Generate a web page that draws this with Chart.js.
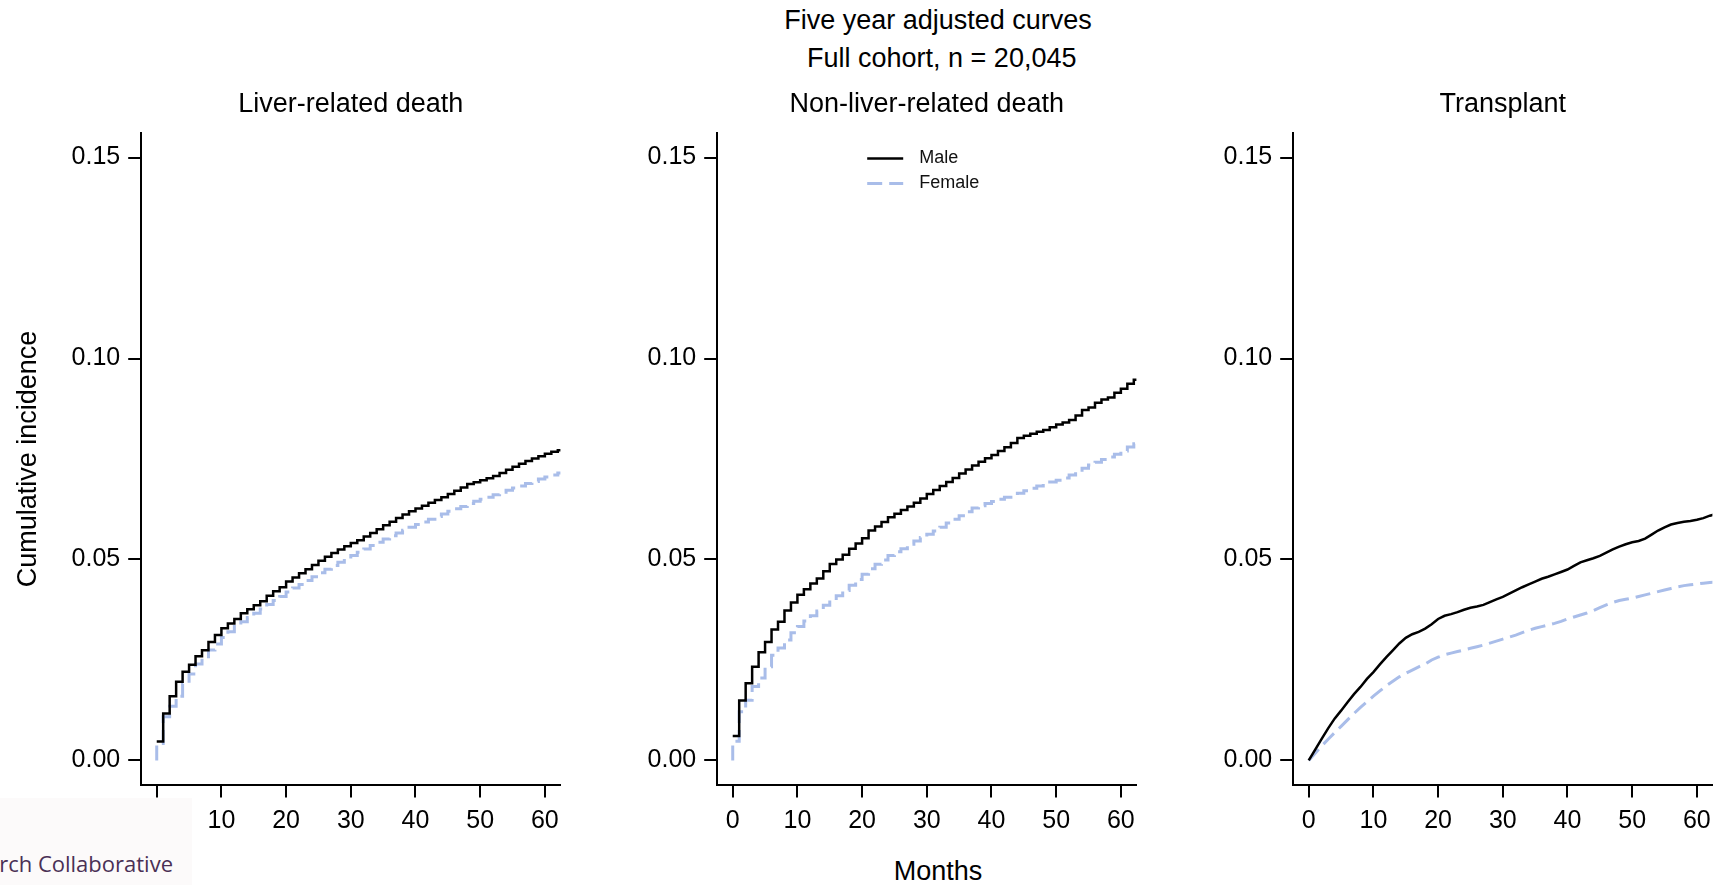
<!DOCTYPE html>
<html>
<head>
<meta charset="utf-8">
<title>Five year adjusted curves</title>
<script src="https://cdn.jsdelivr.net/npm/chart.js@4.4.1/dist/chart.umd.min.js"></script>
<style>
  html, body { margin: 0; padding: 0; background: #fff; }
  #wrap { position: relative; width: 1718px; height: 885px; overflow: hidden; }
  canvas { position: absolute; top: 0; }
  .outer { position: absolute; font-family: "Liberation Sans", Arial, sans-serif; color: #000;
           text-align: center; white-space: pre; }
  #mainTitle { left: 538px; width: 800px; top: 1px; font-size: 27px; line-height: 38px; }
  #xTitle { left: 738px; width: 400px; top: 858px; font-size: 27px; line-height: 27px; }
  #footerBox { position: absolute; left: 0; top: 798px; width: 192px; height: 87px; background: #fcfafa; }
  #footer { position: absolute; right: 1545px; top: 852px; font-family: "Open Sans", sans-serif;
            font-size: 22px; line-height: 22px; color: #4a3055; white-space: nowrap; }
</style>
</head>
<body>
<div id="wrap">
  <div id="footerBox"></div>
  <div id="footer">rch Collaborative</div>
  <div id="mainTitle" class="outer">Five year adjusted curves
 Full cohort, n = 20,045</div>
  <div id="xTitle" class="outer">Months</div>
  <canvas id="liver" width="576" height="885" style="left:0px"></canvas>
  <canvas id="nonliver" width="576" height="885" style="left:576px"></canvas>
  <canvas id="transplant" width="576" height="885" style="left:1152px"></canvas>
</div>

<script>
// Follow-up time in months (one estimate per month)
const months = [
  0, 1, 2, 3, 4, 5, 6, 7, 8, 9,
  10, 11, 12, 13, 14, 15, 16, 17, 18, 19,
  20, 21, 22, 23, 24, 25, 26, 27, 28, 29,
  30, 31, 32, 33, 34, 35, 36, 37, 38, 39,
  40, 41, 42, 43, 44, 45, 46, 47, 48, 49,
  50, 51, 52, 53, 54, 55, 56, 57, 58, 59,
  60, 61, 62, 63
];

const xTicks = [0, 10, 20, 30, 40, 50, 60];
const xTickLabels = ["0", "10", "20", "30", "40", "50", "60"];
const xTickLabelsNoZero = ["", "10", "20", "30", "40", "50", "60"];
const yTicks = [0, 0.05, 0.10, 0.15];
const yTickLabels = ["0.00", "0.05", "0.10", "0.15"];

// Cumulative incidence, liver-related death
const liverMale = [
  0.0047, 0.0117, 0.0160, 0.0196, 0.0221, 0.0238, 0.0259, 0.0274, 0.0295, 0.0312,
  0.0329, 0.0341, 0.0352, 0.0366, 0.0376, 0.0386, 0.0396, 0.0410, 0.0421, 0.0431,
  0.0445, 0.0455, 0.0466, 0.0476, 0.0486, 0.0497, 0.0507, 0.0516, 0.0525, 0.0533,
  0.0541, 0.0548, 0.0557, 0.0566, 0.0575, 0.0585, 0.0594, 0.0603, 0.0612, 0.0620,
  0.0627, 0.0634, 0.0641, 0.0648, 0.0655, 0.0663, 0.0671, 0.0679, 0.0688, 0.0692,
  0.0697, 0.0702, 0.0708, 0.0715, 0.0723, 0.0731, 0.0738, 0.0745, 0.0751, 0.0757,
  0.0763, 0.0768, 0.0772, 0.0774
];
const liverFemale = [
  0.0042, 0.0109, 0.0135, 0.0160, 0.0190, 0.0215, 0.0240, 0.0258, 0.0275, 0.0290,
  0.0306, 0.0320, 0.0333, 0.0345, 0.0356, 0.0366, 0.0377, 0.0388, 0.0398, 0.0408,
  0.0419, 0.0429, 0.0438, 0.0448, 0.0457, 0.0467, 0.0476, 0.0485, 0.0493, 0.0502,
  0.0510, 0.0518, 0.0526, 0.0535, 0.0543, 0.0551, 0.0559, 0.0566, 0.0573, 0.0580,
  0.0587, 0.0593, 0.0600, 0.0607, 0.0613, 0.0620, 0.0626, 0.0632, 0.0639, 0.0645,
  0.0650, 0.0655, 0.0661, 0.0667, 0.0672, 0.0678, 0.0683, 0.0689, 0.0694, 0.0700,
  0.0705, 0.0710, 0.0715, 0.0717
];

// Cumulative incidence, non-liver-related death
const nonLiverMale = [
  0.0061, 0.0149, 0.0192, 0.0233, 0.0269, 0.0295, 0.0326, 0.0345, 0.0373, 0.0393,
  0.0412, 0.0426, 0.0440, 0.0453, 0.0471, 0.0489, 0.0500, 0.0512, 0.0527, 0.0540,
  0.0553, 0.0572, 0.0582, 0.0593, 0.0605, 0.0614, 0.0623, 0.0632, 0.0641, 0.0652,
  0.0663, 0.0673, 0.0683, 0.0693, 0.0703, 0.0714, 0.0724, 0.0734, 0.0743, 0.0752,
  0.0760, 0.0770, 0.0779, 0.0790, 0.0802, 0.0808, 0.0813, 0.0818, 0.0822, 0.0829,
  0.0836, 0.0841, 0.0847, 0.0858, 0.0872, 0.0878, 0.0890, 0.0898, 0.0903, 0.0915,
  0.0925, 0.0937, 0.0947, 0.0953
];
const nonLiverFemale = [
  0.0048, 0.0121, 0.0150, 0.0184, 0.0205, 0.0233, 0.0262, 0.0280, 0.0300, 0.0318,
  0.0333, 0.0347, 0.0360, 0.0372, 0.0386, 0.0398, 0.0410, 0.0423, 0.0436, 0.0450,
  0.0463, 0.0477, 0.0488, 0.0499, 0.0510, 0.0519, 0.0527, 0.0538, 0.0546, 0.0555,
  0.0563, 0.0571, 0.0580, 0.0591, 0.0600, 0.0609, 0.0619, 0.0628, 0.0634, 0.0639,
  0.0644, 0.0650, 0.0655, 0.0660, 0.0665, 0.0671, 0.0677, 0.0683, 0.0688, 0.0693,
  0.0697, 0.0703, 0.0710, 0.0718, 0.0727, 0.0735, 0.0742, 0.0749, 0.0755, 0.0762,
  0.0770, 0.0780, 0.0788, 0.0792
];

// Cumulative incidence, transplant
const transplantMale = [
  0.0000, 0.0027, 0.0054, 0.0080, 0.0104, 0.0124, 0.0145, 0.0165, 0.0183, 0.0203,
  0.0220, 0.0239, 0.0257, 0.0274, 0.0291, 0.0305, 0.0314, 0.0320, 0.0328, 0.0339,
  0.0352, 0.0360, 0.0364, 0.0369, 0.0375, 0.0380, 0.0383, 0.0387, 0.0394, 0.0401,
  0.0407, 0.0415, 0.0423, 0.0431, 0.0438, 0.0445, 0.0452, 0.0457, 0.0463, 0.0469,
  0.0475, 0.0484, 0.0493, 0.0498, 0.0503, 0.0509, 0.0517, 0.0525, 0.0532, 0.0538,
  0.0543, 0.0546, 0.0552, 0.0562, 0.0572, 0.0580, 0.0587, 0.0591, 0.0594, 0.0596,
  0.0599, 0.0603, 0.0609, 0.0613
];
const transplantFemale = [
  0.0000, 0.0018, 0.0036, 0.0053, 0.0069, 0.0085, 0.0101, 0.0117, 0.0132, 0.0146,
  0.0160, 0.0173, 0.0186, 0.0197, 0.0208, 0.0217, 0.0225, 0.0233, 0.0240, 0.0250,
  0.0257, 0.0263, 0.0267, 0.0271, 0.0275, 0.0279, 0.0283, 0.0287, 0.0292, 0.0297,
  0.0302, 0.0307, 0.0312, 0.0318, 0.0324, 0.0329, 0.0333, 0.0337, 0.0341, 0.0346,
  0.0352, 0.0357, 0.0362, 0.0367, 0.0373, 0.0380, 0.0387, 0.0393, 0.0398, 0.0401,
  0.0404, 0.0408, 0.0412, 0.0416, 0.0420, 0.0424, 0.0428, 0.0432, 0.0435, 0.0437,
  0.0439, 0.0441, 0.0443, 0.0444
];

const FONT = '"Liberation Sans", Arial, Helvetica, sans-serif';
const MALE_COLOR = "#000000";
const FEMALE_COLOR = "#a9bde9";

Chart.defaults.font.family = FONT;
Chart.defaults.color = "#000";

// R-like axis range: data range 0..60 padded 4% on each side
const X_MIN = -2.4, X_MAX = 62.4;
const Y_MIN = -0.006, Y_MAX = 0.156;

function toPoints(values, fromZero) {
  const pts = values.map((v, i) => ({ x: months[i], y: v }));
  // female curves climb from the origin at time zero
  if (fromZero) pts.unshift({ x: 0, y: 0 });
  return pts;
}

// small legend drawn inside the plot area
const sexLegend = {
  id: "sexLegend",
  afterDraw(chart, args, o) {
    if (!o.show) return;
    const { ctx, chartArea } = chart;
    ctx.save();
    ctx.font = o.fontSize + "px " + FONT;
    ctx.textBaseline = "middle";
    chart.data.datasets.forEach((ds, i) => {
      const x = chartArea.left + o.left;
      const y = chartArea.top + o.top + i * o.rowHeight;
      ctx.strokeStyle = ds.borderColor;
      ctx.lineWidth = ds.borderWidth;
      ctx.setLineDash(ds.borderDash || []);
      ctx.beginPath();
      ctx.moveTo(x, y);
      ctx.lineTo(x + o.lineLength, y);
      ctx.stroke();
      ctx.setLineDash([]);
      ctx.fillStyle = "#111";
      ctx.fillText(ds.label, x + o.lineLength + o.gap, y);
    });
    ctx.restore();
  }
};

function makePanel(id, p) {
  const axisGrid = {
    display: true, drawOnChartArea: false, drawTicks: true,
    tickLength: 13, tickWidth: 2, lineWidth: 2, color: "#000"
  };
  const axisBorder = { display: true, color: "#000", width: 2 };

  return new Chart(document.getElementById(id), {
    type: "line",
    data: {
      datasets: [
        {
          label: "Male",
          data: toPoints(p.male, false),
          borderColor: MALE_COLOR,
          borderWidth: 2.5,
          stepped: p.stepped ? "before" : false
        },
        {
          label: "Female",
          data: toPoints(p.female, p.stepped),
          borderColor: FEMALE_COLOR,
          borderWidth: 3,
          borderDash: [15, 7],
          stepped: p.stepped ? "before" : false
        }
      ]
    },
    options: {
      responsive: false,
      animation: false,
      devicePixelRatio: 1,
      layout: { padding: { left: 0, right: 15.6, top: 0, bottom: 0 } },
      elements: {
        point: { radius: 0 },
        line: { tension: 0, borderCapStyle: "butt", borderJoinStyle: "miter" }
      },
      plugins: {
        legend: { display: false },
        tooltip: { enabled: false },
        title: {
          display: true,
          text: p.title,
          fullSize: false,
          color: "#000",
          font: { size: 27, weight: "normal", lineHeight: 1.2 },
          padding: { top: 88.8, bottom: 12.2 }
        },
        sexLegend: {
          show: !!p.legend, left: 150, top: 25, rowHeight: 25,
          lineLength: 36, gap: 16, fontSize: 18
        }
      },
      scales: {
        x: {
          type: "linear",
          min: X_MIN,
          max: X_MAX,
          bounds: "data",
          afterBuildTicks: s => { s.ticks = xTicks.map(v => ({ value: v })); },
          afterFit: s => { s.height = 100.4; },
          grid: axisGrid,
          border: axisBorder,
          ticks: {
            padding: 9,
            maxRotation: 0,
            autoSkip: false,
            font: { size: 25 },
            callback: (v, i) => p.xLabels[i]
          }
        },
        y: {
          type: "linear",
          min: Y_MIN,
          max: Y_MAX,
          bounds: "data",
          afterBuildTicks: s => { s.ticks = yTicks.map(v => ({ value: v })); },
          afterFit: s => { s.width = 141.2; },
          grid: axisGrid,
          border: axisBorder,
          ticks: {
            padding: 8,
            font: { size: 25 },
            callback: (v, i) => yTickLabels[i]
          },
          title: {
            display: !!p.yTitle,
            text: "Cumulative incidence",
            font: { size: 27 },
            padding: { top: 12.5, bottom: 0 }
          }
        }
      }
    },
    plugins: [sexLegend]
  });
}

makePanel("liver", {
  title: "Liver-related death",
  male: liverMale, female: liverFemale,
  stepped: true, yTitle: true, xLabels: xTickLabelsNoZero
});

makePanel("nonliver", {
  title: "Non-liver-related death",
  male: nonLiverMale, female: nonLiverFemale,
  stepped: true, legend: true, xLabels: xTickLabels
});

makePanel("transplant", {
  title: "Transplant",
  male: transplantMale, female: transplantFemale,
  stepped: false, xLabels: xTickLabels
});
</script>
</body>
</html>
